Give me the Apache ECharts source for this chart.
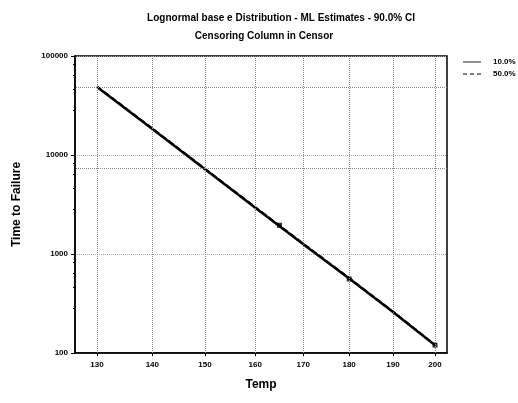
<!DOCTYPE html>
<html>
<head>
<meta charset="utf-8">
<script src="https://cdn.jsdelivr.net/npm/echarts@6/dist/echarts.min.js"></script>
<style>
  html, body { margin: 0; padding: 0; background: #fff; }
  #chart { width: 518px; height: 403px; }
</style>
</head>
<body>
<div id="chart"></div>
<script>
// temperatures on the x axis (Arrhenius scale)
var tempTicks = [130, 140, 150, 160, 170, 180, 190, 200];
var lineTemps = [130, 140, 150, 160, 170, 180, 190, 200];
var p10 = [48600, 18300, 7160, 2940, 1256, 566, 259, 120];
var p50 = [49600, 18700, 7310, 3000, 1282, 578, 264, 122];
var failTemps = [165, 180, 200];
var failTimes = [1950, 560, 120];
var refTimes = [48600, 7400];

// 1/T transform (Kelvin), inverse axis so low temp sits on the left
var toU = function (t) { return 10000 / (t + 273.15); };
var fromU = function (u) { return Math.round(10000 / u - 273.15); };

var font = '"Liberation Sans", Arial, sans-serif';
var chart = echarts.init(document.getElementById('chart'));

var pairs = function (ts, vs) {
  return ts.map(function (t, i) { return [toU(t), vs[i]]; });
};

chart.setOption({
  animation: false,
  color: ['#000'],
  title: [
    {
      text: 'Lognormal base e Distribution - ML Estimates - 90.0% CI',
      left: 276, top: 8, textAlign: 'center',
      textStyle: { fontFamily: font, fontSize: 10, fontWeight: 'bold', color: '#000' }
    },
    {
      text: 'Censoring Column in Censor',
      left: 259, top: 26, textAlign: 'center',
      textStyle: { fontFamily: font, fontSize: 10, fontWeight: 'bold', color: '#000' }
    }
  ],
  legend: {
    orient: 'vertical',
    left: 463,
    top: 58,
    padding: 0,
    itemWidth: 18,
    itemHeight: 2,
    itemGap: 4,
    data: [
      { name: '10.0%', icon: 'path://M0,0H20V1H0Z' },
      { name: '50.0%', icon: 'path://M0,0H4V1H0Z M7,0H11V1H7Z M14,0H18V1H14Z' }
    ],
    itemStyle: { color: '#000' },
    textStyle: { fontFamily: font, fontSize: 8, fontWeight: 'bold', color: '#000', padding: [0, 0, 0, 7] }
  },
  grid: {
    left: 75, right: 71, top: 56, bottom: 50,
    show: true, borderColor: '#000', borderWidth: 1.5
  },
  xAxis: {
    type: 'value',
    inverse: true,
    min: 21.005,
    max: 25.044,
    name: 'Temp',
    nameLocation: 'middle',
    nameGap: 26,
    nameTextStyle: { fontFamily: font, fontSize: 12, fontWeight: 'bold', color: '#000' },
    axisLine: { lineStyle: { color: '#000', width: 1.5 } },
    axisTick: { length: 3, lineStyle: { color: '#000' }, customValues: tempTicks.map(toU) },
    axisLabel: {
      customValues: tempTicks.map(toU),
      formatter: function (v) { return fromU(v); },
      fontFamily: font, fontSize: 8, fontWeight: 'bold', color: '#000', margin: 8
    },
    splitLine: { show: false }
  },
  yAxis: {
    type: 'log',
    logBase: 10,
    min: 100,
    max: 100000,
    name: 'Time to Failure',
    nameLocation: 'middle',
    nameGap: 52,
    nameTextStyle: { fontFamily: font, fontSize: 12, fontWeight: 'bold', color: '#000' },
    axisLine: { show: true, lineStyle: { color: '#000', width: 1.5 } },
    axisTick: { show: true, length: 4, lineStyle: { color: '#000' } },
    minorTick: { show: true, splitNumber: 5, length: 2, lineStyle: { color: '#000' } },
    axisLabel: {
      formatter: function (v) { return String(Math.round(v)); },
      fontFamily: font, fontSize: 8, fontWeight: 'bold', color: '#000', margin: 7
    },
    splitLine: { show: true, lineStyle: { color: '#aaa', type: 'dotted' } }
  },
  series: [
    {
      name: '10.0%',
      type: 'line',
      symbol: 'none',
      data: pairs(lineTemps, p10),
      lineStyle: { color: '#000', width: 2.5 },
      z: 3
    },
    {
      name: '50.0%',
      type: 'line',
      symbol: 'none',
      data: pairs(lineTemps, p50),
      lineStyle: { color: '#000', width: 1.5, type: 'dashed' },
      z: 3,
      markLine: {
        silent: true,
        symbol: 'none',
        label: { show: false },
        lineStyle: { color: '#888', type: 'dotted', width: 1 },
        data: tempTicks.map(function (t) { return { xAxis: toU(t) }; })
          .concat(refTimes.map(function (v) { return { yAxis: v }; }))
      }
    },
    {
      name: 'data',
      type: 'scatter',
      symbol: 'rect',
      symbolSize: 5,
      itemStyle: { color: '#000' },
      data: pairs(failTemps, failTimes),
      z: 4
    }
  ]
});
</script>
</body>
</html>
